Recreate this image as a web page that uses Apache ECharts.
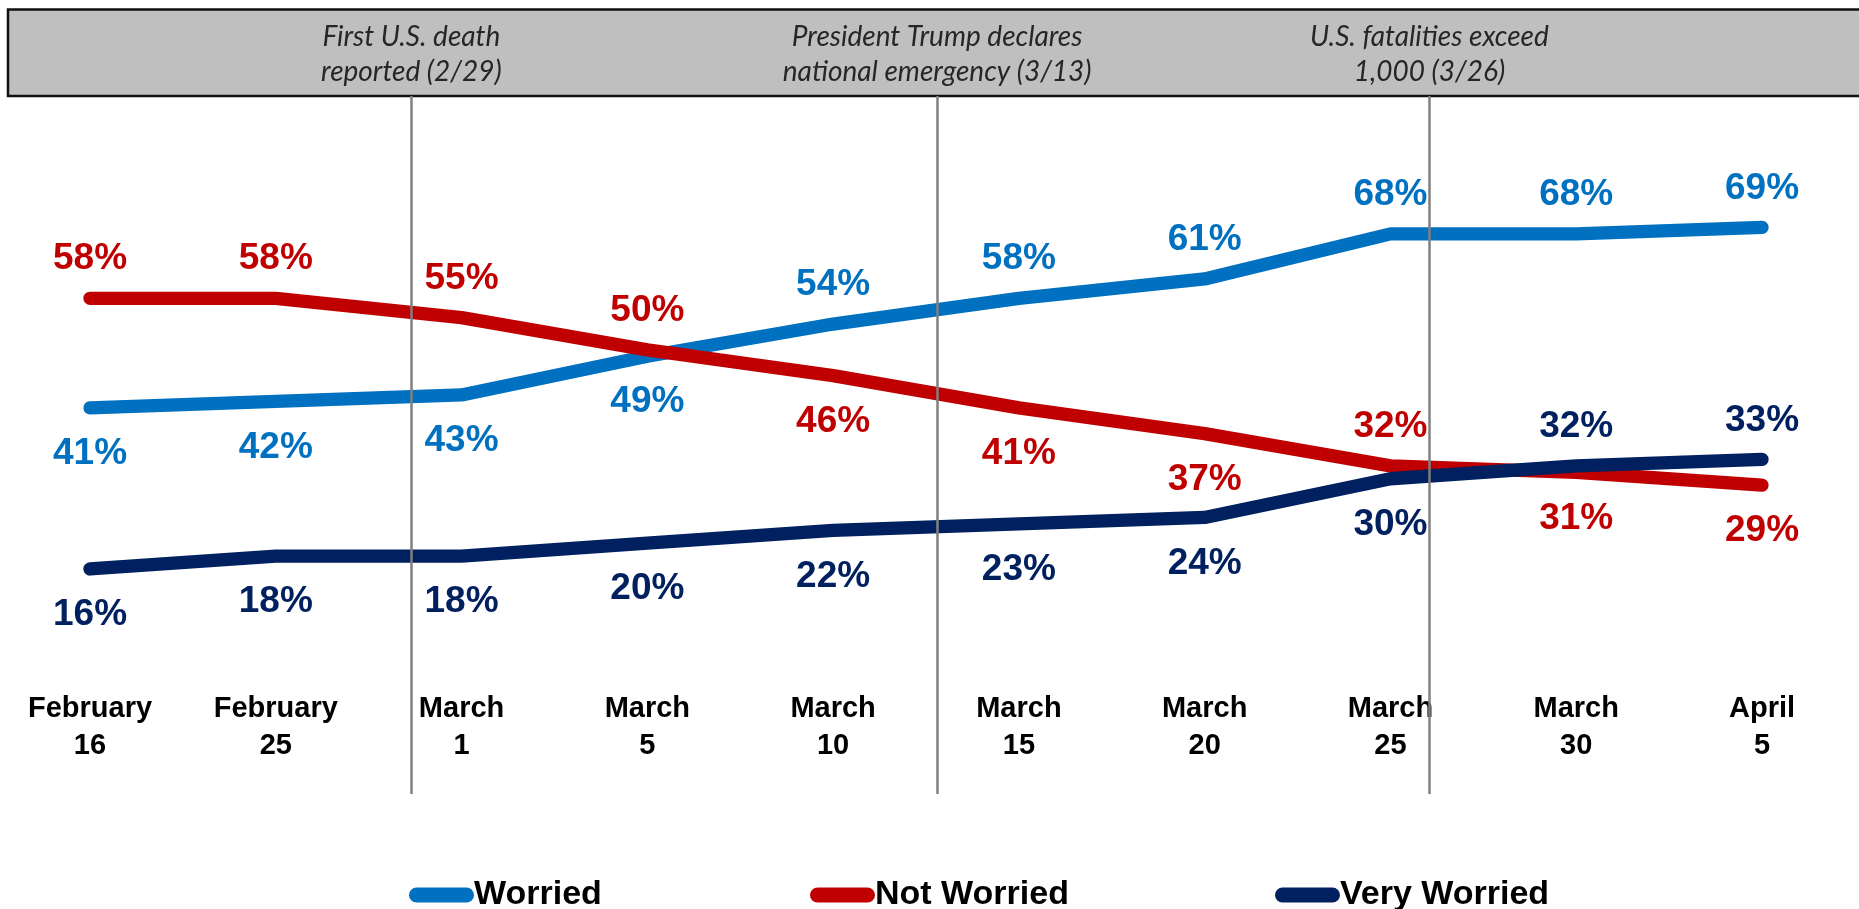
<!DOCTYPE html>
<html>
<head>
<meta charset="utf-8">
<script src="https://cdn.jsdelivr.net/npm/echarts@6/dist/echarts.min.js"></script>
<style>
html,body{margin:0;padding:0;background:#fff;}
#chart{width:1859px;height:909px;}
</style>
</head>
<body>
<div id="chart"></div>
<script>
const categories = ['February\n16','February\n25','March\n1','March\n5','March\n10','March\n15','March\n20','March\n25','March\n30','April\n5'];
const worried = [41,42,43,49,54,58,61,68,68,69];
const notWorried = [58,58,55,50,46,41,37,32,31,29];
const veryWorried = [16,18,18,20,22,23,24,30,32,33];
const worriedLabelSide = ['bottom','bottom','bottom','bottom','top','top','top','top','top','top'];
const notWorriedLabelSide = ['top','top','top','top','bottom','bottom','bottom','top','bottom','bottom'];
const veryWorriedLabelSide = ['bottom','bottom','bottom','bottom','bottom','bottom','bottom','bottom','top','top'];
const eventPositions = [1.728, 4.559, 7.212];
const eventLabels = ['First U.S. death\nreported (2/29)', 'President Trump declares\nnational emergency (3/13)', 'U.S. fatalities exceed\n1,000 (3/26)'];
const seriesNames = ['Worried','Not Worried','Very Worried'];
const colors = ['#0070C0','#C00000','#002060'];

const chart = echarts.init(document.getElementById('chart'));
const GL = 90, GR = 97;

function build(values, sides){
  return values.map((v,i)=>({
    value: v,
    label: { position: sides[i], distance: sides[i]==='top' ? 20 : 27 }
  }));
}
function lineSeries(name, values, sides, color){
  return {
    name: name, type: 'line', xAxisIndex: 0, yAxisIndex: 0,
    data: build(values, sides),
    symbol: 'circle', symbolSize: 1, showSymbol: true,
    itemStyle: { color: color },
    lineStyle: { color: color, width: 13.3, cap: 'round', join: 'bevel' },
    label: { show: true, formatter: '{c}%', color: color, fontSize: 37, fontWeight: 'bold', fontFamily: 'Liberation Sans, Arial, sans-serif' },
    emphasis: { disabled: true },
    animation: false
  };
}
const pill = 'path://M7.5,0 H57.5 A7.5,7.5 0 0 1 57.5,15 H7.5 A7.5,7.5 0 0 1 7.5,0 Z';
const legendLefts = [409, 810, 1275];

chart.setOption({
  backgroundColor: '#fff',
  animation: false,
  graphic: [{
    type: 'rect', z: -10,
    shape: { x: 8, y: 9.5, width: 1900, height: 86.5 },
    style: { fill: '#bfbfbf', stroke: '#111', lineWidth: 2.5 }
  }],
  legend: seriesNames.map((n,i)=>({
    data: [n], left: legendLefts[i], top: 878, padding: 0,
    icon: pill, itemWidth: 65, itemHeight: 15,
    textStyle: { fontSize: 34, fontWeight: 'bold', color: '#000', fontFamily: 'Liberation Sans, Arial, sans-serif', padding: [0,0,0,-5] },
    selectedMode: false
  })),
  grid: [
    { left: GL, right: GR, top: 27.6, height: 644.5 },
    { left: GL, right: GR, top: 96, bottom: 115 }
  ],
  xAxis: [
    { type: 'category', gridIndex: 0, data: categories, boundaryGap: false,
      axisLine: { show: false }, axisTick: { show: false }, splitLine: { show: false },
      axisLabel: { margin: 18, fontSize: 29, fontWeight: 'bold', color: '#000', lineHeight: 37, fontFamily: 'Liberation Sans, Arial, sans-serif', interval: 0 } },
    { type: 'value', gridIndex: 1, min: 0, max: categories.length - 1, show: false }
  ],
  yAxis: [
    { type: 'value', gridIndex: 0, min: 0, max: 100, show: false },
    { type: 'value', gridIndex: 1, min: 0, max: 1, show: false }
  ],
  series: [
    lineSeries(seriesNames[0], worried, worriedLabelSide, colors[0]),
    lineSeries(seriesNames[1], notWorried, notWorriedLabelSide, colors[1]),
    lineSeries(seriesNames[2], veryWorried, veryWorriedLabelSide, colors[2]),
    {
      type: 'line', xAxisIndex: 1, yAxisIndex: 1, data: [], silent: true,
      markLine: {
        silent: true, symbol: ['none','none'], animation: false,
        lineStyle: { color: '#808080', width: 2.5, type: 'solid' },
        label: { show: true, position: 'end', distance: 7, color: '#262626', fontSize: 28, fontStyle: 'italic', fontFamily: 'Lato, Open Sans, sans-serif', lineHeight: 35, align: 'center' },
        data: eventPositions.map((p,i)=>({ xAxis: p, label: { formatter: eventLabels[i] } }))
      }
    }
  ]
});
</script>
</body>
</html>
